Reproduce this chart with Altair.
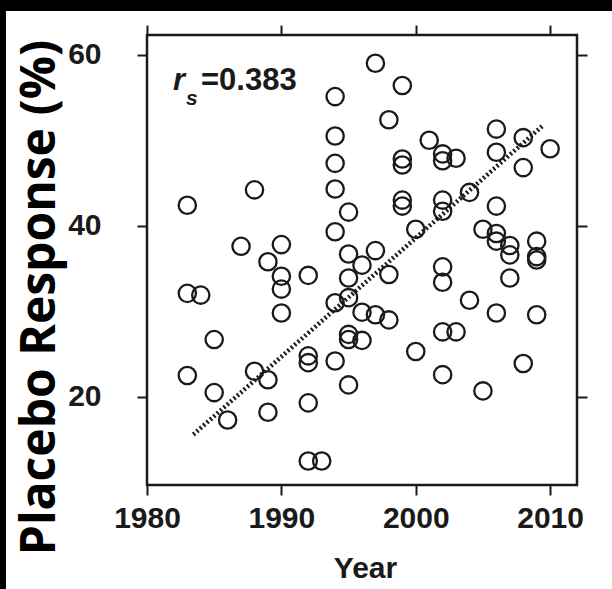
import altair as alt
import pandas as pd

# Placebo response (%) of each trial by publication year
years = [
    1983, 1983, 1983, 1984, 1985, 1985, 1986, 1987, 1988, 1988,
    1989, 1989, 1989, 1990, 1990, 1990, 1990,
    1992, 1992, 1992, 1992, 1992, 1993,
    1994, 1994, 1994, 1994, 1994, 1994, 1994,
    1995, 1995, 1995, 1995, 1995, 1995, 1995,
    1996, 1996, 1996, 1997, 1997, 1997, 1998, 1998, 1998,
    1999, 1999, 1999, 1999, 1999, 2000, 2000, 2001,
    2002, 2002, 2002, 2002, 2002, 2002, 2002, 2002,
    2003, 2003, 2004, 2004, 2005, 2005,
    2006, 2006, 2006, 2006, 2006, 2006,
    2007, 2007, 2007, 2008, 2008, 2008,
    2009, 2009, 2009, 2009, 2010,
]
response = [
    42.4, 32.1, 22.5, 31.9, 26.7, 20.5, 17.3, 37.6, 44.2, 23.0,
    35.8, 22.0, 18.2, 37.8, 34.1, 32.6, 29.8,
    34.2, 24.8, 24.0, 19.3, 12.5, 12.5,
    55.1, 50.5, 47.3, 44.3, 39.3, 31.0, 24.2,
    41.6, 36.7, 33.9, 31.6, 27.3, 26.7, 21.4,
    35.4, 29.9, 26.6, 59.0, 37.1, 29.6, 52.4, 34.3, 29.0,
    56.4, 47.8, 47.1, 43.0, 42.3, 39.6, 25.3, 50.0,
    48.4, 47.6, 43.0, 41.7, 35.2, 33.4, 27.6, 22.6,
    47.9, 27.6, 43.9, 31.3, 39.6, 20.7,
    51.3, 48.6, 42.3, 39.1, 38.2, 29.8,
    37.7, 36.6, 33.9, 50.3, 46.8, 23.9,
    38.2, 36.4, 36.0, 29.6, 49.0,
]

# Fitted trend line end points
trend_year = [1983.45, 2009.45]
trend_resp = [15.6, 51.7]

x_ticks = [1980, 1990, 2000, 2010]
y_ticks = [20, 40, 60]
x_domain = [1980, 2012]
y_domain = [9.7, 62.3]

rs_symbol = "r"
rs_sub = "s"
rs_value = "=0.383"

W, H = 430, 450
INK = "#1a1a1a"
NUM_FONT = "Liberation Sans"
TITLE_FONT = "Open Sans"

pts = pd.DataFrame({"Year": years, "Response": response})
trend = pd.DataFrame({"Year": trend_year, "Response": trend_resp})
one = pd.DataFrame({"k": [0]})

x_scale = alt.Scale(domain=x_domain, nice=False, zero=False)
y_scale = alt.Scale(domain=y_domain, nice=False, zero=False)

x_axis = alt.Axis(
    values=x_ticks, format="d", grid=False, domain=False, labelFlush=False,
    tickSize=10, tickWidth=2, tickColor=INK,
    labelFont=NUM_FONT, labelFontSize=30, labelFontWeight="bold",
    labelColor=INK, labelPadding=8,
    title="Year", titleFont=NUM_FONT, titleFontSize=30,
    titleFontWeight="bold", titleColor=INK,
    titleX=218, titleY=92, titleAlign="center", titleBaseline="alphabetic",
)
y_axis = alt.Axis(
    values=y_ticks, grid=False, domain=False, labelFlush=False,
    tickSize=10, tickWidth=2, tickColor=INK,
    labelFont=NUM_FONT, labelFontSize=30, labelFontWeight="bold",
    labelColor=INK, labelPadding=36,
    title="Placebo Response (%)", titleFont=TITLE_FONT, titleFontSize=48,
    titleFontWeight="bold", titleColor="black", titleAngle=270,
    titleX=-93, titleY=262, titleAlign="center", titleBaseline="alphabetic",
)

points = alt.Chart(pts).mark_point(
    shape="circle", filled=False, size=300, strokeWidth=2.3,
    color=INK, opacity=1,
).encode(
    x=alt.X("Year:Q", scale=x_scale, axis=x_axis),
    y=alt.Y("Response:Q", scale=y_scale, axis=y_axis),
)

line = alt.Chart(trend).mark_line(
    strokeDash=[2, 2.5], strokeWidth=4.5, color=INK,
).encode(
    x=alt.X("Year:Q", scale=x_scale),
    y=alt.Y("Response:Q", scale=y_scale),
)

r_txt = alt.Chart(one).mark_text(
    font=NUM_FONT, fontSize=31, fontStyle="italic", fontWeight="bold",
    align="left", baseline="alphabetic", color=INK,
).encode(x=alt.value(26), y=alt.value(55), text=alt.value(rs_symbol))

s_txt = alt.Chart(one).mark_text(
    font=NUM_FONT, fontSize=21, fontStyle="italic", fontWeight="bold",
    align="left", baseline="alphabetic", color=INK,
).encode(x=alt.value(39), y=alt.value(70), text=alt.value(rs_sub))

v_txt = alt.Chart(one).mark_text(
    font=NUM_FONT, fontSize=31, fontWeight="bold",
    align="left", baseline="alphabetic", color=INK,
).encode(x=alt.value(54), y=alt.value(55), text=alt.value(rs_value))

main = alt.layer(line, points, r_txt, s_txt, v_txt)

# mirrored tick marks on the top and right sides
mirror = alt.Chart(pts).mark_point(opacity=0).encode(
    x=alt.X("Year:Q", scale=x_scale, axis=alt.Axis(
        orient="top", values=x_ticks, labels=False, title="", grid=False,
        domain=False, tickSize=10, tickWidth=2, tickColor=INK)),
    y=alt.Y("Response:Q", scale=y_scale, axis=alt.Axis(
        orient="right", values=y_ticks, labels=False, title="", grid=False,
        domain=False, tickSize=10, tickWidth=2, tickColor=INK)),
)

# dark border strips along the top and left edges of the figure
band_top = alt.Chart(one).mark_rect(color="black").encode(
    x=alt.value(-147), x2=alt.value(W + 35), y=alt.value(-35), y2=alt.value(-24))
band_left = alt.Chart(one).mark_rect(color="black").encode(
    x=alt.value(-147), x2=alt.value(-141), y=alt.value(-35), y2=alt.value(H + 104))

chart = alt.layer(main, mirror, band_top, band_left).resolve_scale(
    x="independent", y="independent"
).properties(
    width=W, height=H,
    autosize=alt.AutoSizeParams(type="none"),
    padding={"left": 147, "top": 35, "right": 35, "bottom": 104},
    background="white",
).configure_view(stroke=INK, strokeWidth=2.5)

chart.save("out.html", embed_options={"renderer": "svg", "actions": False})
